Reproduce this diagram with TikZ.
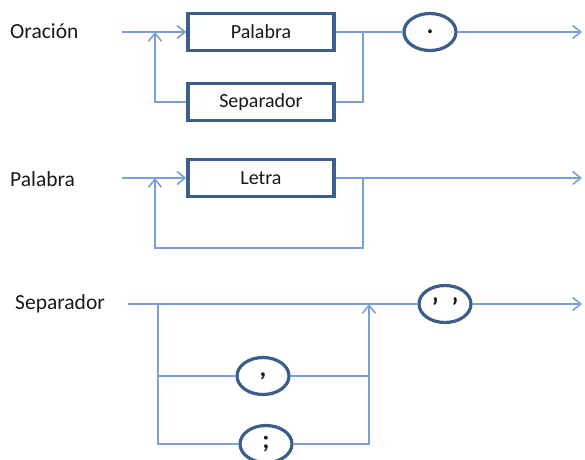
\documentclass[tikz,border=0pt]{standalone}
\usepackage{fontspec}
\setmainfont{Carlito}
\usetikzlibrary{shapes.geometric,arrows.meta}
\definecolor{linea}{HTML}{7BA0D3}
\definecolor{borde}{HTML}{3B5E8C}

\begin{document}
\begin{tikzpicture}[
        x=1pt, y=-1pt,
        every node/.style={font=\fontsize{20}{24}\selectfont, text=black!90},
        nombre/.style={anchor=west, inner sep=0pt, font=\fontsize{21.5}{24}\selectfont},
        nonterminal/.style={rectangle, draw=borde, line width=3.4pt, fill=white, minimum width=146pt, minimum height=37pt, inner sep=0pt},
        terminal/.style={ellipse, draw=borde, line width=3.2pt, fill=white, minimum width=52pt, minimum height=37pt, inner sep=0pt, font=\fontsize{26}{28}\selectfont\bfseries},
        conector/.style={draw=linea, line width=1.6pt},
        flecha/.style={conector, -{Straight Barb[length=8pt, width=13pt]}}
        ]
        \useasboundingbox (0,0) rectangle (585,459);

        % Oracion
        \node[nombre] (oracion) at (10,31) {Oración};
        \node[nonterminal] (palabra1) at (261,32) {Palabra};
        \node[nonterminal] (separador1) at (261,102) {Separador};
        \node[terminal] (punto) at (430,32) {.};
        \coordinate (o-in) at (122,32);
        \coordinate (o-loop) at (155,32);
        \coordinate (o-join) at (363,32);
        \coordinate (o-out) at (582,32);

        \draw[flecha] (o-in) -- (palabra1);
        \draw[flecha] (separador1.west) -| (o-loop);
        \draw[conector] (palabra1) -- (punto);
        \draw[conector] (o-join) |- (separador1.east);
        \draw[flecha] (punto) -- (o-out);

        % Palabra
        \node[nombre] (palabra) at (10,179) {Palabra};
        \node[nonterminal] (letra) at (261,178) {Letra};
        \coordinate (p-in) at (122,178);
        \coordinate (p-loop) at (155,178);
        \coordinate (p-join) at (363,178);
        \coordinate (p-bottom) at (155,248);
        \coordinate (p-out) at (582,178);

        \draw[flecha] (p-in) -- (letra);
        \draw[flecha] (p-join) |- (p-bottom) -- (p-loop);
        \draw[flecha] (letra) -- (p-out);

        % Separador
        \node[nombre] (separador) at (15,304) {Separador};
        \node[terminal] (comillas) at (445,304) {\raisebox{-12pt}[0pt][0pt]{’\hspace{13pt}’}};
        \node[terminal] (coma) at (263,376) {,};
        \node[terminal] (puntoycoma) at (266,444) {;};
        \coordinate (s-in) at (128,304);
        \coordinate (s-split) at (158,304);
        \coordinate (s-join) at (369,304);
        \coordinate (s-out) at (582,304);

        \draw[conector] (s-in) -- (comillas);
        \draw[flecha] (comillas) -- (s-out);
        \draw[conector] (s-split) |- (puntoycoma);
        \draw[conector] (s-split |- coma) -- (coma);
        \draw[conector] (coma) -- (coma -| s-join);
        \draw[flecha] (puntoycoma) -| (s-join);

    \end{tikzpicture}
\end{document}
